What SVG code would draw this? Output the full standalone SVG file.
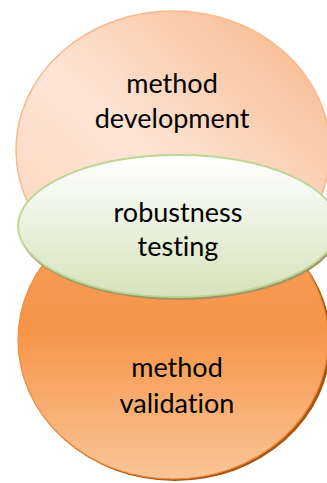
<svg xmlns="http://www.w3.org/2000/svg" width="327" height="483" viewBox="0 0 327 483">
  <style>
    .lbl { font-family: Lato, "Open Sans", "Liberation Sans", sans-serif; font-size: 27px; fill: #000; text-anchor: middle; font-variant-ligatures: none; font-feature-settings: "liga" 0, "dlig" 0; }
  </style>
  <defs>
    <linearGradient id="gDev" x1="1" y1="0" x2="0" y2="1">
      <stop offset="0" stop-color="#f6b485"/>
      <stop offset="0.55" stop-color="#fde5d6"/>
      <stop offset="1" stop-color="#fbd3b8"/>
    </linearGradient>
    <linearGradient id="gVal" x1="0" y1="0" x2="0" y2="1">
      <stop offset="0" stop-color="#f5a362"/>
      <stop offset="0.45" stop-color="#f69447"/>
      <stop offset="1" stop-color="#fac597"/>
    </linearGradient>
    <linearGradient id="gRob" x1="0" y1="0" x2="0" y2="1">
      <stop offset="0" stop-color="#ffffff"/>
      <stop offset="1" stop-color="#d6e3bb"/>
    </linearGradient>
  </defs>

  <g id="node-method-development">
    <ellipse cx="173" cy="150" rx="157" ry="139" fill="url(#gDev)" stroke="#f8b98c" stroke-width="1.5"/>
    <text class="lbl" x="172" y="93">method</text>
    <text class="lbl" x="172" y="128">development</text>
  </g>

  <g id="node-method-validation">
    <ellipse cx="175" cy="342" rx="156" ry="139" fill="#a8560f"/>
    <ellipse cx="173" cy="340" rx="155" ry="139" fill="url(#gVal)" stroke="#f08a3c" stroke-width="1.2"/>
    <text class="lbl" x="177" y="377">method</text>
    <text class="lbl" x="177" y="413">validation</text>
  </g>

  <g id="node-robustness-testing">
    <ellipse cx="179" cy="229" rx="160" ry="71" fill="#a39468"/>
    <ellipse cx="178" cy="226" rx="160" ry="71" fill="url(#gRob)" stroke="#bfd596" stroke-width="2"/>
    <text class="lbl" x="178" y="222">robustness</text>
    <text class="lbl" x="178" y="256">testing</text>
  </g>
</svg>
